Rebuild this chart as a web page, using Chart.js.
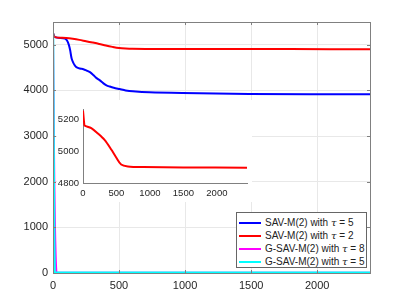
<!DOCTYPE html>
<html>
<head>
<meta charset="utf-8">
<script src="https://cdn.jsdelivr.net/npm/chart.js@4.4.0/dist/chart.umd.min.js"></script>
<style>
  body { margin: 0; background: #fff; }
  #wrap { position: relative; width: 409px; height: 307px; }
  #main { position: absolute; left: 0; top: 0; }
  #inset { position: absolute; left: 57px; top: 100px; background: #fff; }
  #legend { position: absolute; left: 236px; top: 212px; width: 129px; height: 54px;
    border: 1px solid #666; background: #fff; font: 10px "Liberation Sans", Arial, sans-serif; color: #222; }
  .row { position: absolute; left: 0; height: 12px; line-height: 12px; white-space: nowrap; }
  .sw { position: absolute; left: 2px; top: 5px; width: 22px; height: 2px; }
  .tx { position: absolute; left: 28px; top: 0; }
  .tx i { font-family: "DejaVu Serif", serif; }
</style>
</head>
<body>
<div id="wrap">
  <canvas id="main" width="409" height="307"></canvas>
  <canvas id="inset" width="195" height="102"></canvas>
  <div id="legend"></div>
</div>
<script>
// data
var blueX = [0, 15, 90, 105, 120, 130, 141, 153, 165, 180, 205, 230, 255, 280, 305, 330, 355, 380, 405, 430, 460, 505, 550, 605, 730, 980, 1485, 2400];
var blueY = [5255, 5170, 5140, 5100, 5000, 4880, 4700, 4610, 4550, 4505, 4480, 4465, 4435, 4400, 4340, 4270, 4220, 4160, 4110, 4085, 4060, 4030, 4000, 3980, 3958, 3943, 3925, 3915];

var redX = [0, 15, 100, 150, 200, 250, 300, 350, 400, 450, 500, 550, 600, 800, 1200, 1800, 2400];
var redY = [5255, 5168, 5150, 5132, 5108, 5078, 5050, 5020, 4985, 4955, 4930, 4918, 4912, 4910, 4908, 4906, 4905];

var magentaX = [0, 5, 10, 15, 20, 25, 30, 2400];
var magentaY = [5250, 3500, 2000, 1000, 400, 50, 5, 5];

var cyanX = [0, 4, 8, 12, 16, 2400];
var cyanY = [5250, 3000, 1000, 100, 5, 5];

// zoomed curve (inset)
var insetX = [0, 20, 25, 124, 223, 322, 422, 496, 570, 670, 900, 1500, 2450];
var insetY = [5255, 5165, 5160, 5144, 5110, 5070, 5010, 4960, 4916, 4904, 4900, 4898, 4896];

var legendNames = ['SAV-M(2) with ', 'SAV-M(2) with ', 'G-SAV-M(2) with ', 'G-SAV-M(2) with '];
var legendTau = ['5', '2', '8', '5'];
var colors = ['#0000ff', '#ff0000', '#ff00ff', '#00ffff'];

var mainXTicks = [0, 500, 1000, 1500, 2000];
var mainYTicks = [0, 1000, 2000, 3000, 4000, 5000];
var insetXTicks = [0, 500, 1000, 1500, 2000];
var insetYTicks = [4800, 5000, 5200];

function pts(xs, ys) {
    return xs.map(function (x, i) { return { x: x, y: ys[i] }; });
}

function keepTicks(list) {
    return function (axis) {
        axis.ticks = list.map(function (v) { return { value: v }; });
    };
}

function plain(v) { return String(v); }

var font = { family: '"Liberation Sans", Arial, sans-serif', size: 11 };

// box and inner tick marks, matlab style
var boxPlugin = {
    id: 'box',
    afterDatasetsDraw: function (chart) {
        var a = chart.chartArea, c = chart.ctx;
        var sx = chart.scales.x, sy = chart.scales.y;
        c.save();
        c.strokeStyle = '#808080';
        c.lineWidth = 1;
        c.strokeRect(a.left + 0.5, a.top + 0.5, a.right - a.left, a.bottom - a.top);
        c.beginPath();
        mainXTicks.forEach(function (v) {
            var p = Math.round(sx.getPixelForValue(v)) + 0.5;
            c.moveTo(p, a.bottom); c.lineTo(p, a.bottom - 3);
            c.moveTo(p, a.top); c.lineTo(p, a.top + 3);
        });
        mainYTicks.forEach(function (v) {
            var p = Math.round(sy.getPixelForValue(v)) + 0.5;
            c.moveTo(a.left, p); c.lineTo(a.left + 3, p);
            c.moveTo(a.right, p); c.lineTo(a.right - 3, p);
        });
        c.stroke();
        c.restore();
    }
};

function line(label, xs, ys, color, order, width) {
    return {
        label: label,
        data: pts(xs, ys),
        borderColor: color,
        borderWidth: width,
        pointRadius: 0,
        showLine: true,
        tension: 0.3,
        order: order
    };
}

new Chart(document.getElementById('main'), {
    type: 'scatter',
    data: {
        datasets: [
            line('SAV-M(2) with τ = 5', blueX, blueY, colors[0], 3, 2),
            line('SAV-M(2) with τ = 2', redX, redY, colors[1], 2, 2),
            line('G-SAV-M(2) with τ = 8', magentaX, magentaY, colors[2], 1, 2),
            line('G-SAV-M(2) with τ = 5', cyanX, cyanY, colors[3], 0, 2.5)
        ]
    },
    options: {
        responsive: false,
        animation: false,
        layout: { padding: { left: 0, right: 39, top: 22, bottom: 0 } },
        plugins: { legend: { display: false }, tooltip: { enabled: false } },
        scales: {
            x: {
                type: 'linear', min: 0, max: 2400,
                afterBuildTicks: keepTicks(mainXTicks),
                afterFit: function (s) { s.height = 34; },
                grid: { color: '#e8e8e8', drawTicks: false },
                border: { display: false },
                ticks: { padding: 6, color: '#262626', font: font, maxRotation: 0, callback: plain }
            },
            y: {
                type: 'linear', min: 0, max: 5500,
                afterBuildTicks: keepTicks(mainYTicks),
                afterFit: function (s) { s.width = 53; },
                grid: { color: '#e8e8e8', drawTicks: false },
                border: { display: false },
                ticks: { padding: 5, color: '#262626', font: font, callback: plain }
            }
        }
    },
    plugins: [boxPlugin]
});

var smallFont = { family: '"Liberation Sans", Arial, sans-serif', size: 9.5 };

new Chart(document.getElementById('inset'), {
    type: 'scatter',
    data: {
        datasets: [line('inset', insetX, insetY, colors[1], 0, 2)]
    },
    options: {
        responsive: false,
        animation: false,
        layout: { padding: { left: 0, right: 5, top: 7, bottom: 0 } },
        plugins: { legend: { display: false }, tooltip: { enabled: false } },
        scales: {
            x: {
                type: 'linear', min: 0, max: 2450,
                afterBuildTicks: keepTicks(insetXTicks),
                afterFit: function (s) { s.height = 19; },
                grid: { display: false, drawTicks: false },
                border: { display: true, color: '#808080' },
                ticks: { padding: 5, color: '#262626', font: smallFont, maxRotation: 0, callback: plain }
            },
            y: {
                type: 'linear', min: 4800, max: 5260,
                afterBuildTicks: keepTicks(insetYTicks),
                afterFit: function (s) { s.width = 26; },
                grid: { display: false, drawTicks: false },
                border: { display: true, color: '#808080' },
                ticks: { padding: 4, color: '#262626', font: smallFont, callback: plain }
            }
        }
    }
});

// legend box inside the axes
var legendDiv = document.getElementById('legend');
var rowTops = [4, 17, 30, 43];
legendNames.forEach(function (name, i) {
    var row = document.createElement('div');
    row.className = 'row';
    row.style.top = rowTops[i] + 'px';
    row.innerHTML = '<div class="sw" style="background:' + colors[i] + '"></div>' +
        '<div class="tx">' + name + '<i>τ</i> = ' + legendTau[i] + '</div>';
    legendDiv.appendChild(row);
});
</script>
</body>
</html>
